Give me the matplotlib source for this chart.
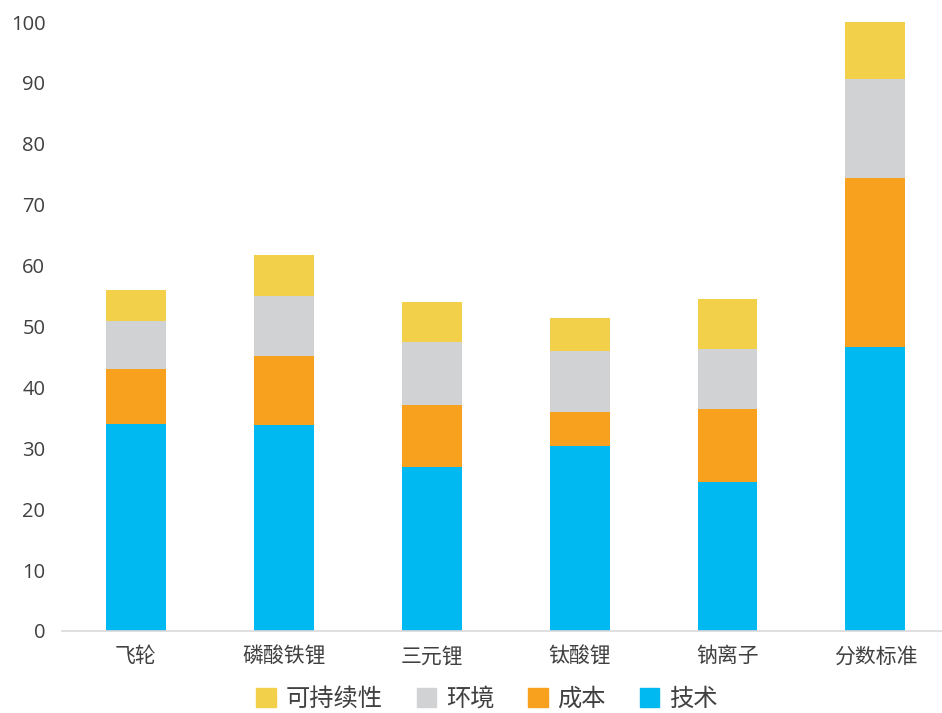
import numpy as np
import matplotlib.pyplot as plt
from matplotlib.patches import Patch

plt.rcParams['font.family'] = ['Open Sans', 'Noto Sans CJK SC', 'DejaVu Sans']

categories = ['飞轮', '磷酸铁锂', '三元锂', '钛酸锂', '钠离子', '分数标准']
tech = [34.0, 33.8, 26.9, 30.4, 24.5, 46.6]
cost = [9.0, 11.4, 10.2, 5.6, 12.0, 27.8]
env = [7.9, 9.8, 10.4, 10.0, 9.8, 16.2]
sustain = [5.1, 6.7, 6.5, 5.4, 8.2, 9.4]

series = [('技术', tech, '#00B9F1'),
          ('成本', cost, '#F7A11E'),
          ('环境', env, '#D1D2D4'),
          ('可持续性', sustain, '#F2D04A')]

fig = plt.figure(figsize=(9.42, 7.13), dpi=100)
ax = fig.add_axes([62 / 942, 1 - 631 / 713, 880 / 942, 609 / 713])

x = np.arange(len(categories))
bottom = np.zeros(len(categories))
for name, vals, col in series:
    ax.bar(x, vals, 0.405, bottom=bottom, color=col, label=name)
    bottom += np.array(vals)

ax.set_xlim(-0.5, 5.45)
ax.set_ylim(0, 100)
ax.set_yticks(range(0, 101, 10))
ax.set_xticks(x)
ax.set_xticklabels(categories)
ax.tick_params(axis='both', length=0, colors='#404040')
ax.tick_params(axis='x', pad=11, labelsize=15)
ax.tick_params(axis='y', pad=12, labelsize=14.5)

for s in ['top', 'right', 'left']:
    ax.spines[s].set_visible(False)
ax.spines['bottom'].set_color('#D9D9D9')
ax.spines['bottom'].set_linewidth(1.2)

handles = [Patch(color=col, label=name) for name, vals, col in reversed(series)]
fig.legend(handles=handles, loc='center', bbox_to_anchor=(487 / 942, 1 - 700 / 713),
           ncol=4, frameon=False, fontsize=17.5, handlelength=0.8, handleheight=0.8,
           handletextpad=0.4, columnspacing=1.4, labelcolor='#404040')

fig.savefig('out.png', dpi=100)
